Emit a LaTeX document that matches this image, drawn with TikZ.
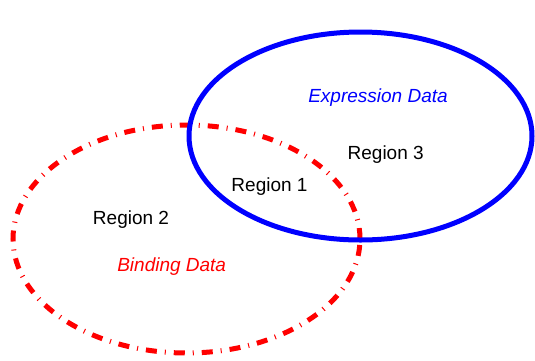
\documentclass[tikz,border=0pt]{standalone}
\usepackage{fontspec}
\setmainfont{Liberation Sans}
\usepackage{tikz}
\definecolor{exprblue}{rgb}{0,0,1}
\definecolor{bindred}{rgb}{1,0,0}
\tikzset{
  conjunto/.style={
    line width=5pt
  },
  region/.style={
    anchor=base,
    inner sep=0pt,
    font=\fontsize{19}{23}\selectfont
  },
  etiqueta/.style={
    region,
    font=\fontsize{19}{23}\selectfont\itshape
  }
}
\begin{document}
\begin{tikzpicture}[x=1pt,y=-1pt]
\useasboundingbox (0,0) rectangle (535,360);
\draw[conjunto,bindred,dash pattern=on 11pt off 8pt on 1pt off 8pt] (186.5,239) ellipse [x radius=173.5pt, y radius=114pt];
\draw[conjunto,exprblue] (360.5,136) ellipse [x radius=171.5pt, y radius=104pt];
\node[etiqueta,exprblue] (expr) at (378,102.7) {Expression Data};
\node[region] (r3) at (385.7,159.3) {Region 3};
\node[region] (r1) at (269.5,191.7) {Region 1};
\node[region] (r2) at (131,224) {Region 2};
\node[etiqueta,bindred] (bind) at (171.7,271.7) {Binding Data};
\end{tikzpicture}
\end{document}
